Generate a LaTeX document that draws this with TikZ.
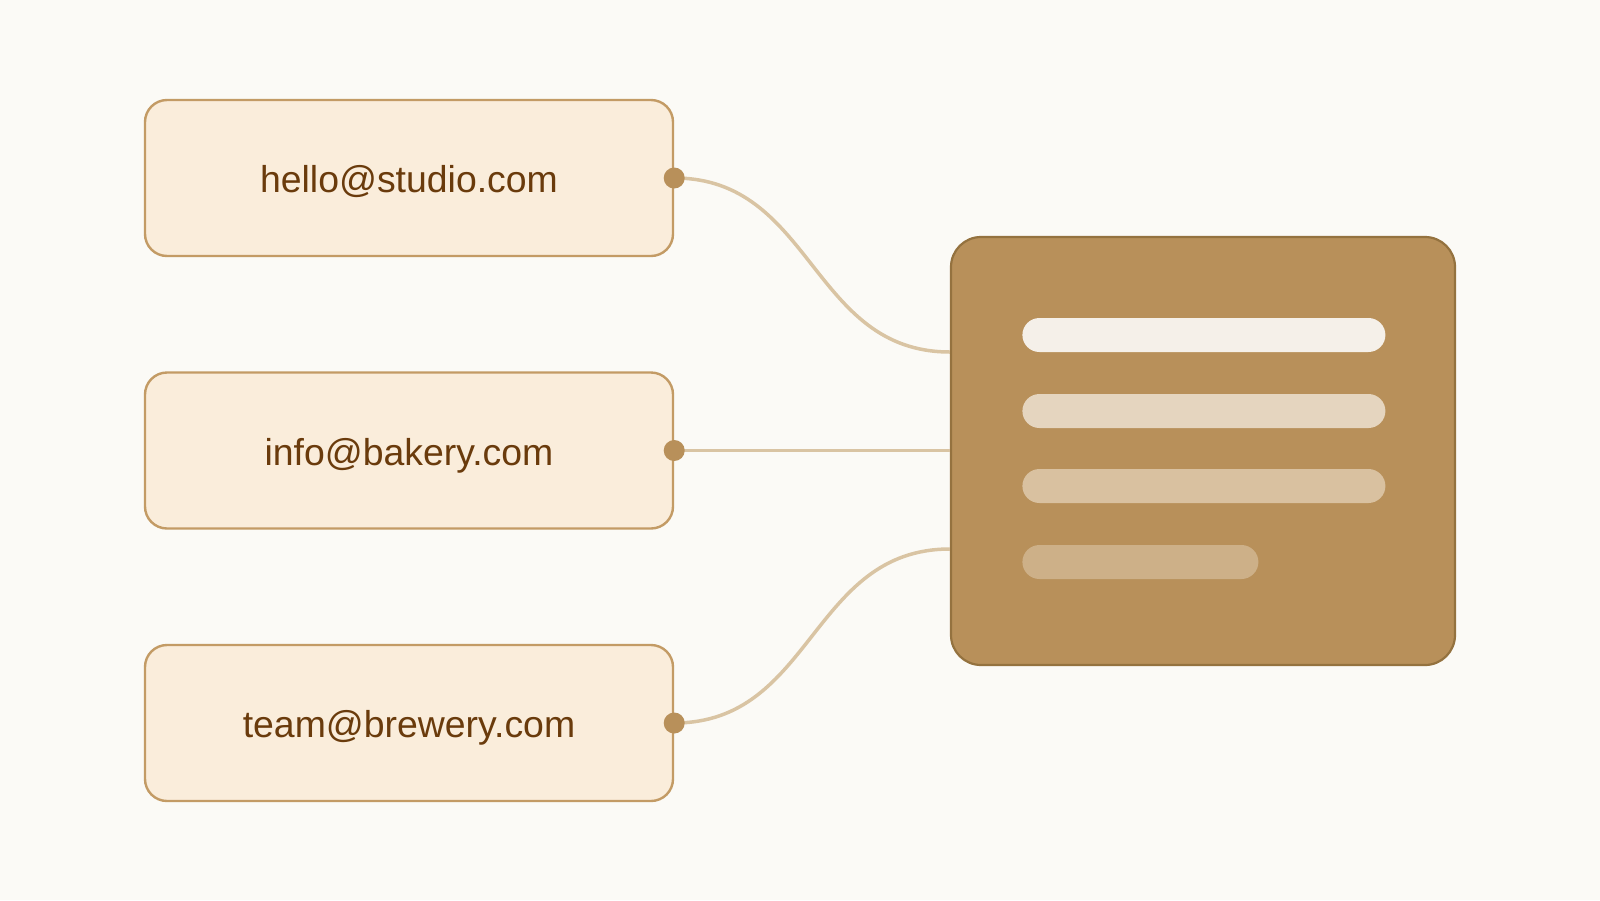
\documentclass[tikz,border=0pt]{standalone}
\usepackage{fontspec}
\setmainfont{Liberation Sans}
\definecolor{bgc}{HTML}{FBFAF6}
\definecolor{boxfill}{HTML}{FAEDDB}
\definecolor{boxline}{HTML}{C39B65}
\definecolor{txtc}{HTML}{6A3B0C}
\definecolor{hubfill}{HTML}{B8905A}
\definecolor{hubline}{HTML}{94723F}
\definecolor{wire}{HTML}{D9C4A3}
\definecolor{barA}{HTML}{F5F0E9}
\definecolor{barB}{HTML}{E5D5BF}
\definecolor{barC}{HTML}{D9C1A0}
\definecolor{barD}{HTML}{CDB088}
\tikzset{
  mailbox/.style={draw=boxline, fill=boxfill, line width=1.2pt, rounded corners=11pt,
    minimum width=264pt, minimum height=78pt, inner sep=0pt, text=txtc,
    text height=14.7pt, text depth=0pt,
    font=\fontsize{18.7pt}{22pt}\selectfont},
  hub/.style={draw=hubline, fill=hubfill, line width=1.1pt, rounded corners=15pt,
    minimum width=252pt, minimum height=214pt, inner sep=0pt},
  wireline/.style={draw=wire, line width=1.75pt},
  port/.style={circle, fill=hubfill, minimum size=10.5pt, inner sep=0pt},
  barbox/.style={rounded corners=8.5pt, minimum height=17pt, inner sep=0pt, anchor=west}
}
\begin{document}
\begin{tikzpicture}[x=0.5pt,y=-0.5pt]
\fill[bgc] (0,0) rectangle (1600,900);
\useasboundingbox (0,0) rectangle (1600,900);

\node[mailbox] (m1) at (409,178) {hello@studio.com};
\node[mailbox] (m2) at (409,450.5) {info@bakery.com};
\node[mailbox] (m3) at (409,723) {team@brewery.com};

\node[hub] (hub) at (1203,451) {};

\node[barbox, fill=barA, minimum width=181.5pt] (b1) at (1022,335) {};
\node[barbox, fill=barB, minimum width=181.5pt] (b2) at (1022,411) {};
\node[barbox, fill=barC, minimum width=181.5pt] (b3) at (1022,486) {};
\node[barbox, fill=barD, minimum width=118pt] (b4) at (1022,562) {};

\coordinate (h1) at (hub.west |- 0,352);
\coordinate (h3) at (hub.west |- 0,549);

\draw[wireline] (m1.east) .. controls ([xshift=69.5pt]m1.east) and ([xshift=-69.5pt]h1) .. (h1);
\draw[wireline] (m2.east) -- (m2.east -| hub.west);
\draw[wireline] (m3.east) .. controls ([xshift=69.5pt]m3.east) and ([xshift=-69.5pt]h3) .. (h3);

\node[port] (p1) at (m1.east) {};
\node[port] (p2) at (m2.east) {};
\node[port] (p3) at (m3.east) {};
\end{tikzpicture}
\end{document}
